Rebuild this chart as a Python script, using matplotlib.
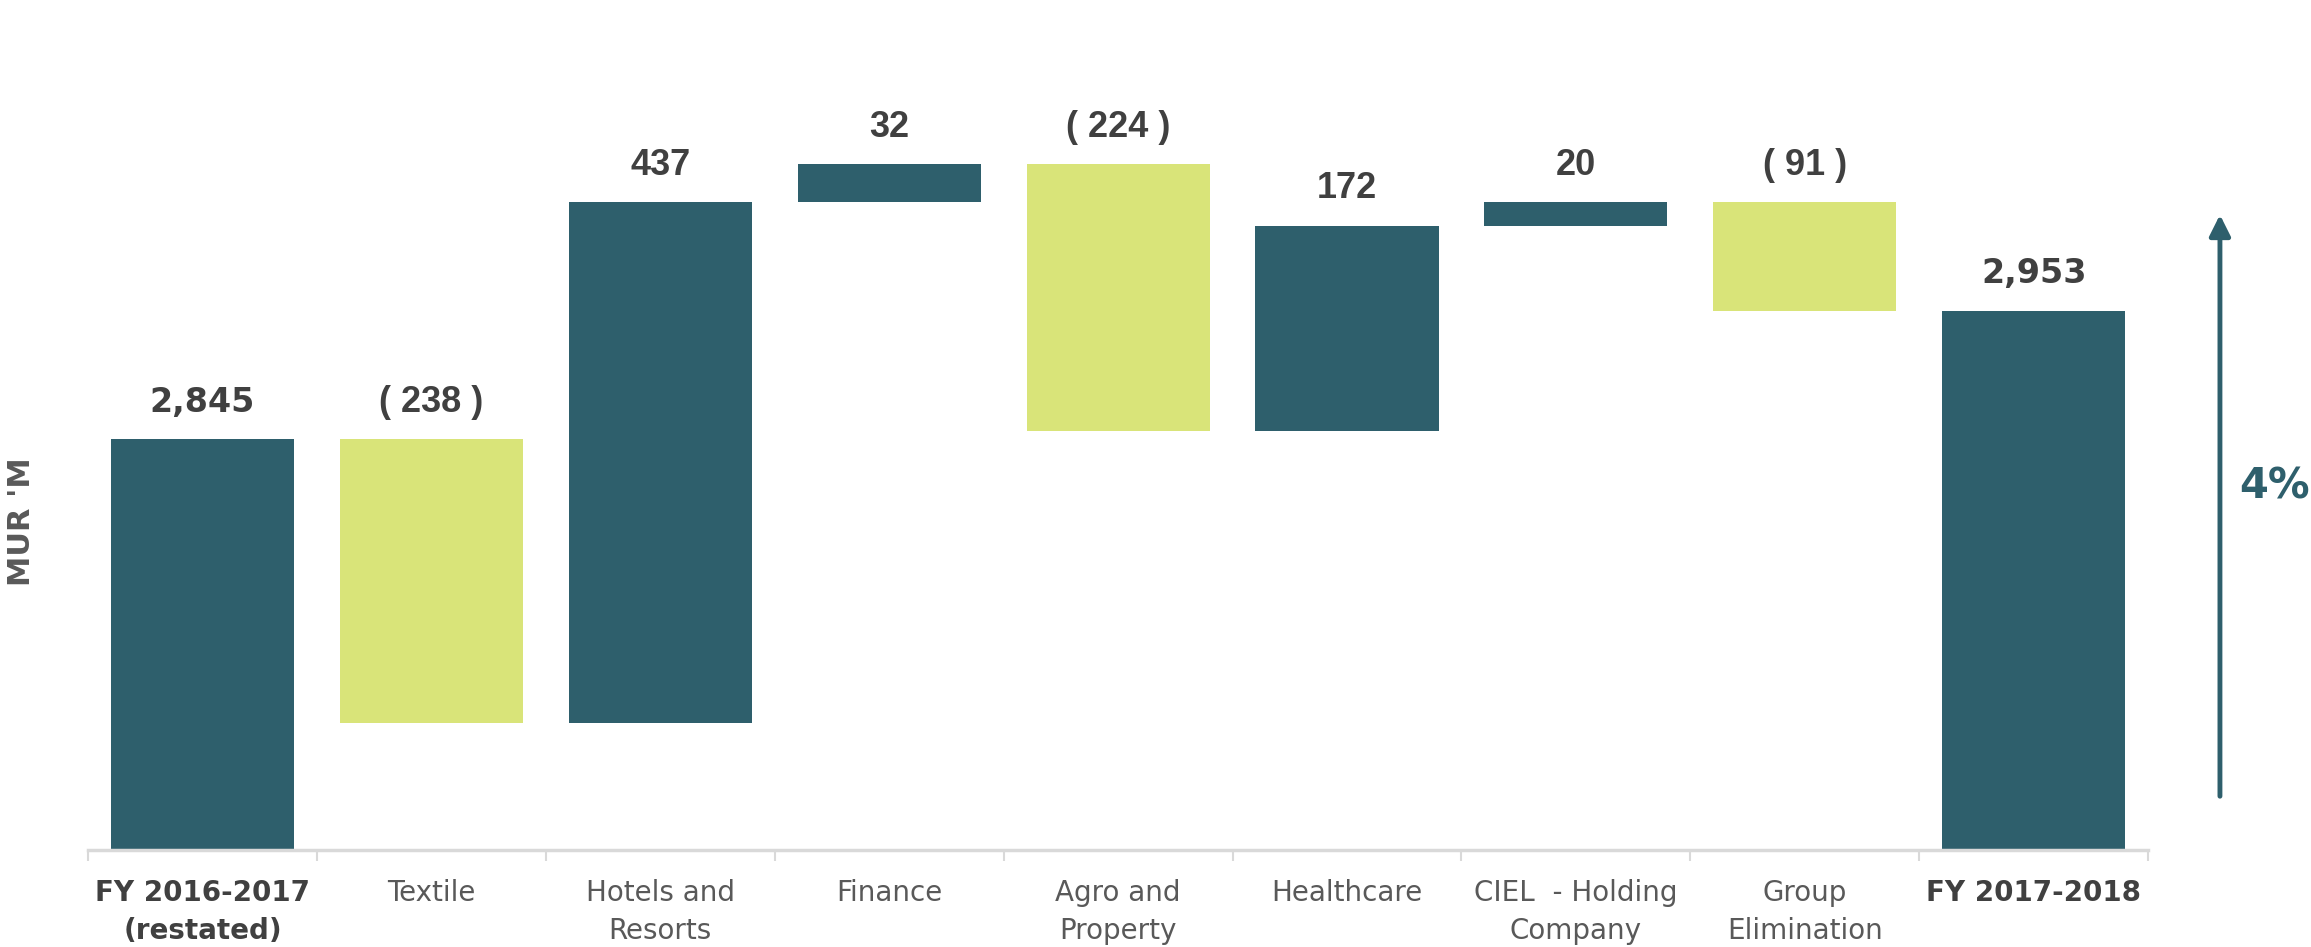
import matplotlib
matplotlib.use("Agg")
import matplotlib.pyplot as plt
import numpy as np

# Waterfall data (MUR 'M)
categories = [
    "FY 2016-2017\n(restated)",
    "Textile",
    "Hotels and\nResorts",
    "Finance",
    "Agro and\nProperty",
    "Healthcare",
    "CIEL  - Holding\nCompany",
    "Group\nElimination",
    "FY 2017-2018",
]
values = [2845, -238, 437, 32, -224, 172, 20, -91, 2953]
is_total = [True, False, False, False, False, False, False, False, True]
growth_label = "4%"

teal = "#2e5f6c"
green = "#d9e479"
dark = "#404040"
grey = "#595959"

# bar bottoms / heights
bottoms = []
heights = []
level = 0
for v, tot in zip(values, is_total):
    if tot:
        bottoms.append(0)
        heights.append(v)
        level = v
    else:
        if v >= 0:
            bottoms.append(level)
        else:
            bottoms.append(level + v)
        heights.append(abs(v))
        level += v
bottoms = np.array(bottoms)
heights = np.array(heights)
colors = [teal if (t or v >= 0) else green for v, t in zip(values, is_total)]

fig = plt.figure(figsize=(23.11, 9.47), dpi=100)
ax = fig.add_axes([0.0381, 0.1024, 0.8914, 0.8976])

x = np.arange(len(categories))
ax.bar(x, heights, bottom=bottoms, width=0.8, color=colors, zorder=2)

ax.set_xlim(-0.5, len(categories) - 0.5)
ax.set_ylim(2500, 3214)

# data labels above each bar
for i, (v, tot) in enumerate(zip(values, is_total)):
    top = bottoms[i] + heights[i]
    if tot:
        txt = f"{v:,}"
        fam = "DejaVu Sans"
        fs = 24
    else:
        txt = f"( {abs(v)} )" if v < 0 else f"{v}"
        fam = "Liberation Sans"
        fs = 26
    ax.annotate(txt, (x[i], top), xytext=(0, 20), textcoords="offset points",
                ha="center", va="baseline", fontsize=fs, fontweight="bold",
                color=dark, family=fam)

# axes styling
for s in ["left", "right", "top"]:
    ax.spines[s].set_visible(False)
ax.spines["bottom"].set_color("#d9d9d9")
ax.spines["bottom"].set_linewidth(2.5)
ax.spines["bottom"].set_zorder(3)
ax.set_yticks([])
ax.set_xticks(x)
ax.set_xticklabels(categories, fontsize=20, color=grey, linespacing=1.45)
ax.tick_params(axis="x", which="major", length=0, pad=21)
ax.set_xticks(np.arange(-0.5, len(categories)), minor=True)
ax.tick_params(axis="x", which="minor", length=8, width=1.5, color="#d9d9d9")
for lbl, tot in zip(ax.get_xticklabels(), is_total):
    if tot:
        lbl.set_fontweight("bold")
        lbl.set_color(dark)

fig.text(0.0091, 0.449, "MUR 'M", rotation=90, ha="center", va="center",
         fontsize=22, fontweight="bold", color=grey)

# growth arrow
fig.add_artist(matplotlib.patches.FancyArrowPatch(
    (0.9606, 1 - 799 / 947), (0.9606, 1 - 212 / 947),
    transform=fig.transFigure, arrowstyle="-|>,head_length=0.9,head_width=0.45",
    mutation_scale=14, color=teal, linewidth=3.5))
fig.text(0.984, 0.486, growth_label, ha="center", va="center",
         fontsize=30, fontweight="bold", color=teal)

fig.savefig("out.png", dpi=100)
